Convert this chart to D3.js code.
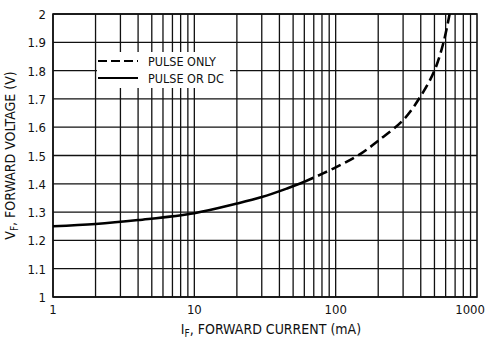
<!DOCTYPE html>
<html>
<head>
<meta charset="utf-8">
<script src="https://cdn.jsdelivr.net/npm/d3@7"></script>
<style>
  body { margin: 0; background: #fff; }
  svg { display: block; }
  text { font-family: "DejaVu Sans Condensed", "DejaVu Sans", sans-serif; font-stretch: condensed; fill: #111; }
</style>
</head>
<body>
<svg id="chart" width="486" height="340"></svg>
<script>
// 資料 - 從圖上讀取
const xTickValues = [1, 10, 100, 1000];
const yTickValues = [1, 1.1, 1.2, 1.3, 1.4, 1.5, 1.6, 1.7, 1.8, 1.9, 2];
// 整條曲線 (mA, V)；60 mA 以下為實線 (PULSE OR DC)，以上為虛線 (PULSE ONLY)
const currentMa = [1, 2, 4, 10, 20, 30, 45, 60, 100, 150, 200, 300, 400, 500, 580, 640];
const voltageV = [1.25, 1.258, 1.272, 1.296, 1.33, 1.353, 1.383, 1.407, 1.458, 1.506, 1.552, 1.625, 1.71, 1.8, 1.9, 2.0];
const dcLimitMa = 60;
const legendLabels = ['PULSE ONLY', 'PULSE OR DC'];

const curve = currentMa.map((c, i) => [c, voltageV[i]]);

const margin = { top: 14, right: 9, bottom: 43, left: 53 };
const svg = d3.select('#chart');
const width = 486 - margin.left - margin.right;
const height = 340 - margin.top - margin.bottom;

const x = d3.scaleLog().domain([1, 1000]).range([0, width]);
const y = d3.scaleLinear().domain([1, 2]).range([height, 0]);

const g = svg.append('g').attr('transform', `translate(${margin.left},${margin.top})`);

// 剪裁區域：實線 / 虛線分界
const defs = svg.append('defs');
defs.append('clipPath').attr('id', 'clip-dc')
  .append('rect').attr('x', -5).attr('y', -5)
  .attr('width', x(dcLimitMa) + 5).attr('height', height + 10);
defs.append('clipPath').attr('id', 'clip-pulse')
  .append('rect').attr('x', x(dcLimitMa)).attr('y', -5)
  .attr('width', width - x(dcLimitMa) + 5).attr('height', height + 10);

// 網格線
const xGrid = [];
for (let d = 1; d < 1000; d *= 10) {
  for (let k = 1; k <= 9; k++) xGrid.push(d * k);
}
g.selectAll('.vgrid').data(xGrid).enter().append('line')
  .attr('x1', d => x(d)).attr('x2', d => x(d))
  .attr('y1', 0).attr('y2', height)
  .attr('stroke', '#111').attr('stroke-width', 1.3);
g.selectAll('.hgrid').data(yTickValues).enter().append('line')
  .attr('x1', 0).attr('x2', width)
  .attr('y1', d => y(d)).attr('y2', d => y(d))
  .attr('stroke', '#111').attr('stroke-width', 1.3);

// 外框
g.append('rect').attr('width', width).attr('height', height)
  .attr('fill', 'none').attr('stroke', '#111').attr('stroke-width', 1.6);

// 圖例背景
g.append('rect').attr('x', 44).attr('y', 38).attr('width', 133).attr('height', 36)
  .attr('fill', '#fff');

// 曲線
const line = d3.line().x(d => x(d[0])).y(d => y(d[1])).curve(d3.curveCatmullRom.alpha(0.5));
g.append('path').datum(curve).attr('d', line)
  .attr('clip-path', 'url(#clip-dc)')
  .attr('fill', 'none').attr('stroke', '#000').attr('stroke-width', 2.6);
g.append('path').datum(curve.filter(d => d[0] >= dcLimitMa)).attr('d', line)
  .attr('clip-path', 'url(#clip-pulse)')
  .attr('fill', 'none').attr('stroke', '#000').attr('stroke-width', 2.6)
  .attr('stroke-dasharray', '10,5');

// 圖例
const legend = g.append('g').attr('transform', 'translate(45,47)');
legendLabels.forEach((label, i) => {
  legend.append('line')
    .attr('x1', 0).attr('x2', 40).attr('y1', i * 17).attr('y2', i * 17)
    .attr('stroke', '#000').attr('stroke-width', 2)
    .attr('stroke-dasharray', i === 0 ? '9,4' : null);
  legend.append('text')
    .attr('x', 50).attr('y', i * 17 + 5)
    .attr('font-size', 12.5)
    .text(label);
});

// Y 軸刻度
g.selectAll('.ylab').data(yTickValues).enter().append('text')
  .attr('x', -7).attr('y', d => y(d) + 5)
  .attr('text-anchor', 'end').attr('font-size', 13)
  .text(d => d3.format('~g')(d));

// X 軸刻度
g.selectAll('.xlab').data(xTickValues).enter().append('text')
  .attr('x', d => d === 1000 ? x(d) + 8 : x(d))
  .attr('y', height + 17)
  .attr('text-anchor', d => d === 1000 ? 'end' : 'middle')
  .attr('font-size', 13)
  .text(d => d);

// 軸標題
const xt = svg.append('text').attr('x', 271).attr('y', 334)
  .attr('text-anchor', 'middle').attr('font-size', 14);
xt.append('tspan').text('I');
xt.append('tspan').attr('font-size', 10).attr('dy', 3).text('F');
xt.append('tspan').attr('dy', -3).text(', FORWARD CURRENT (mA)');

const yt = svg.append('text')
  .attr('transform', `translate(15,${margin.top + height / 2}) rotate(-90)`)
  .attr('text-anchor', 'middle').attr('font-size', 14);
yt.append('tspan').text('V');
yt.append('tspan').attr('font-size', 10).attr('dy', 3).text('F');
yt.append('tspan').attr('dy', -3).text(', FORWARD VOLTAGE (V)');
</script>
</body>
</html>
